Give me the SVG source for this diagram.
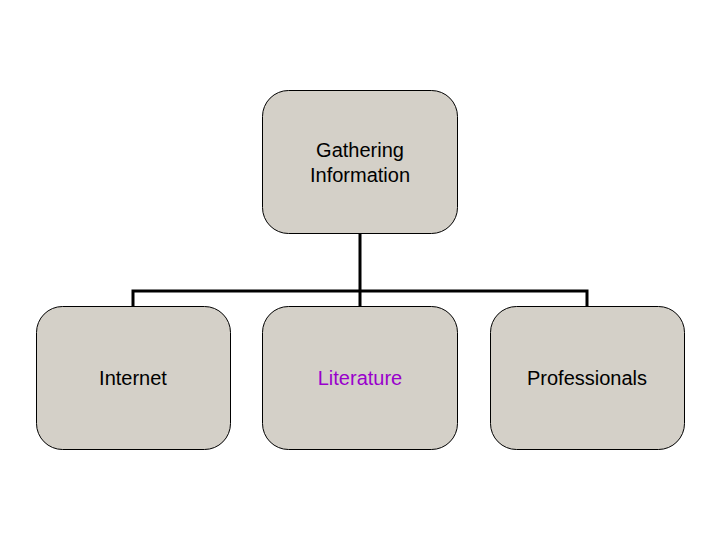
<svg xmlns="http://www.w3.org/2000/svg" width="720" height="540" viewBox="0 0 720 540">
<style>
.box{fill:#D4D0C8;stroke:#000;stroke-width:1}
.lbl{font-family:"Liberation Sans",Arial,sans-serif;font-size:20px;fill:#000;text-anchor:middle}
.conn{fill:none;stroke:#000;stroke-width:3}
</style>
<rect width="720" height="540" fill="#fff"/>
<g id="connectors">
<path class="conn" d="M360 234V291M133 306V291H587V306M360 291V306"/>
</g>
<g id="gathering">
<rect class="box" x="262.5" y="90.5" width="195" height="143" rx="26"/>
<text class="lbl" x="360" y="157">Gathering</text>
<text class="lbl" x="360" y="182">Information</text>
</g>
<g id="internet">
<rect class="box" x="36.5" y="306.5" width="194" height="143" rx="26"/>
<text class="lbl" x="133" y="385">Internet</text>
</g>
<g id="literature">
<rect class="box" x="262.5" y="306.5" width="195" height="143" rx="26"/>
<text class="lbl" x="360" y="385" style="fill:#9900CC">Literature</text>
</g>
<g id="professionals">
<rect class="box" x="490.5" y="306.5" width="194" height="143" rx="26"/>
<text class="lbl" x="587" y="385">Professionals</text>
</g>
</svg>
